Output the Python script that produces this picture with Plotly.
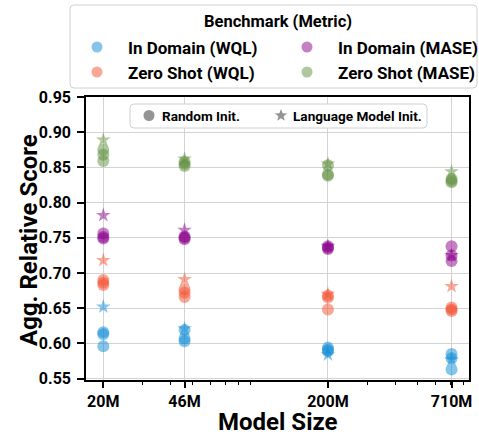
import math
import plotly.graph_objects as go

sizes = [20, 46, 200, 710]
size_labels = ["20M", "46M", "200M", "710M"]

benchmarks = ["In Domain (WQL)", "In Domain (MASE)", "Zero Shot (WQL)", "Zero Shot (MASE)"]
colors = ["#0d8bd5", "#8b008b", "#f35131", "#5f8f3e"]
init_labels = ["Random Init.", "Language Model Init."]
x_title = "Model Size"
y_title = "Agg. Relative Score"

random_id_wql = [[0.616, 0.613, 0.596], [0.619, 0.607, 0.603], [0.594, 0.591, 0.589], [0.585, 0.579, 0.563]]
random_id_mase = [[0.756, 0.751, 0.749], [0.752, 0.750, 0.748], [0.738, 0.736, 0.734], [0.738, 0.725, 0.717]]
random_zs_wql = [[0.690, 0.686, 0.683], [0.677, 0.672, 0.666], [0.668, 0.665, 0.648], [0.651, 0.648, 0.646]]
random_zs_mase = [[0.875, 0.868, 0.859], [0.858, 0.855, 0.852], [0.853, 0.840, 0.838], [0.834, 0.831, 0.829]]

lm_id_wql = [0.652, 0.621, 0.584, 0.577]
lm_id_mase = [0.782, 0.761, 0.738, 0.725]
lm_zs_wql = [0.718, 0.691, 0.670, 0.681]
lm_zs_mase = [0.889, 0.862, 0.855, 0.844]

y_ticks = [0.55, 0.60, 0.65, 0.70, 0.75, 0.80, 0.85, 0.90, 0.95]
minor_ticks = [30, 40, 50, 60, 70, 80, 90, 300, 400, 500, 600, 700, 800]

random_sets = [random_id_wql, random_id_mase, random_zs_wql, random_zs_mase]
lm_sets = [lm_id_wql, lm_id_mase, lm_zs_wql, lm_zs_mase]

FONT = "Roboto"
W, H = 479, 435
ML, MR, MT, MB = 86, 10, 97, 55
PW, PH = W - ML - MR, H - MT - MB


def px(x):
    return (x - ML) / PW


def py(y):
    return (H - MB - y) / PH


def rounded_box(x0p, x1p, y0p, y1p, r=4):
    rx, ry = r / PW, r / PH
    X0, X1, Y0, Y1 = px(x0p), px(x1p), py(y1p), py(y0p)
    path = (f"M{X0 + rx},{Y1} L{X1 - rx},{Y1} Q{X1},{Y1} {X1},{Y1 - ry} "
            f"L{X1},{Y0 + ry} Q{X1},{Y0} {X1 - rx},{Y0} L{X0 + rx},{Y0} "
            f"Q{X0},{Y0} {X0},{Y0 + ry} L{X0},{Y1 - ry} Q{X0},{Y1} {X0 + rx},{Y1} Z")
    return dict(type="path", xref="paper", yref="paper", path=path,
                fillcolor="white", line=dict(color="#d0d0d0", width=1))


def circle_mark(cx, cy, rad, col, op):
    return dict(type="circle", xref="paper", yref="paper", xsizemode="pixel", ysizemode="pixel",
                xanchor=px(cx), yanchor=py(cy), x0=-rad, x1=rad, y0=-rad, y1=rad,
                fillcolor=col, opacity=op, line=dict(width=0))


def star_mark(cx, cy, rad, col, op):
    pts = []
    for k in range(10):
        rr = rad if k % 2 == 0 else rad * 0.42
        a = math.pi / 2 + k * math.pi / 5
        pts.append((rr * math.cos(a), rr * math.sin(a)))
    path = "M" + " L".join(f"{x:.2f},{y:.2f}" for x, y in pts) + " Z"
    return dict(type="path", xref="paper", yref="paper", xsizemode="pixel", ysizemode="pixel",
                xanchor=px(cx), yanchor=py(cy), path=path,
                fillcolor=col, opacity=op, line=dict(width=0))


def label(text, x, y, size, anchor="left", angle=0):
    return dict(text=text, x=px(x), y=py(y), xref="paper", yref="paper",
                xanchor=anchor, yanchor="middle", showarrow=False, textangle=angle,
                font=dict(size=size, family=FONT, weight="bold", color="black"))


fig = go.Figure()

for name, col, rnd, lm in zip(benchmarks, colors, random_sets, lm_sets):
    xs, ys = [], []
    for s, vals in zip(sizes, rnd):
        for v in vals:
            xs.append(s)
            ys.append(v)
    fig.add_trace(go.Scatter(x=xs, y=ys, mode="markers", showlegend=False, name=name,
                             marker=dict(symbol="circle", size=12, color=col, opacity=0.5,
                                         line=dict(width=0))))
    fig.add_trace(go.Scatter(x=sizes, y=lm, mode="markers", showlegend=False, name=name,
                             marker=dict(symbol="star", size=11, color=col, opacity=0.5,
                                         line=dict(width=0))))

shapes = []
annotations = []

# benchmark legend (above the plot)
shapes.append(rounded_box(70, 477, 5, 88))
annotations.append(label("Benchmark (Metric)", 278, 22, 16.5, anchor="center"))
entry_pos = [(97, 47), (307, 47), (97, 72), (307, 72)]
for name, col, (mx, my) in zip(benchmarks, colors, entry_pos):
    shapes.append(circle_mark(mx, my, 5.5, col, 0.5))
    annotations.append(label(name, mx + 29, my + 1, 17))

# initialisation legend (inside the plot)
shapes.append(rounded_box(130, 427, 104, 128))
shapes.append(circle_mark(149, 115.5, 5.5, "#888888", 0.9))
annotations.append(label(init_labels[0], 160, 116, 13.6))
shapes.append(star_mark(281, 115.5, 6.5, "#888888", 0.9))
annotations.append(label(init_labels[1], 291, 116, 13.6))

# axis titles
annotations.append(label(x_title, 278, 422, 24, anchor="center"))
annotations.append(label(y_title, 29, 240, 24, anchor="center", angle=-90))

fig.update_layout(
    width=W, height=H,
    margin=dict(l=ML, r=MR, t=MT, b=MB, autoexpand=False),
    paper_bgcolor="white", plot_bgcolor="white",
    font=dict(family=FONT, size=14, color="black", weight="bold"),
    showlegend=False,
    shapes=shapes, annotations=annotations,
    xaxis=dict(
        type="log", range=[1.224, 2.929],
        tickmode="array", tickvals=sizes, ticktext=size_labels,
        tickfont=dict(size=16, family=FONT, weight="bold"),
        ticks="outside", ticklen=6, tickwidth=1.5, tickcolor="black",
        showline=True, linecolor="black", linewidth=1.5, mirror=True,
        showgrid=True, gridcolor="#d3d3d3", gridwidth=1.2, zeroline=False,
        minor=dict(tickmode="array", tickvals=minor_ticks, ticks="outside", ticklen=3,
                   tickwidth=1, tickcolor="black", showgrid=False),
    ),
    yaxis=dict(
        range=[0.548, 0.95],
        tickmode="array", tickvals=y_ticks, tickformat=".2f",
        tickfont=dict(size=16, family=FONT, weight="bold"),
        ticks="outside", ticklen=7, tickwidth=1.5, tickcolor="black",
        ticklabelstandoff=3,
        showline=True, linecolor="black", linewidth=1.5, mirror=True,
        showgrid=True, gridcolor="#d3d3d3", gridwidth=1.2, zeroline=False,
    ),
)

fig.write_html("out.html", config={"displayModeBar": False},
               post_script="document.body.style.margin='0';")
